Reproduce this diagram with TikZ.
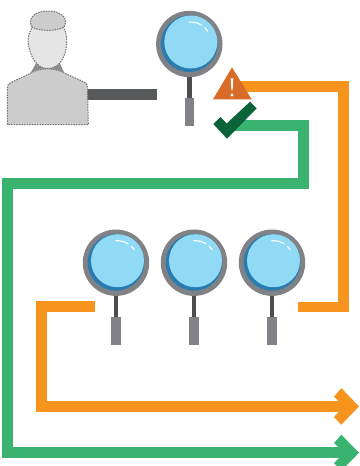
\documentclass[tikz,border=0pt]{standalone}
\definecolor{orangeline}{HTML}{F7941E}
\definecolor{greenline}{HTML}{39B36F}
\definecolor{ringgray}{HTML}{808285}
\definecolor{stemgray}{HTML}{4D4D4F}
\definecolor{barshade}{HTML}{58595B}
\definecolor{lensdark}{HTML}{2A7CB0}
\definecolor{lenslight}{HTML}{91DAF6}
\definecolor{warnfill}{HTML}{DA6C2A}
\definecolor{checkfill}{HTML}{0B6339}
\tikzset{
  route/.style={line width=10.7pt,miter limit=10},
  personpart/.style={draw=black!55,dash pattern=on 1.5pt off 1.1pt,line width=1pt},
  magnifier/.pic={
    \fill[stemgray] (-2.2,30) rectangle (2.2,56);
    \fill[ringgray] (-4.8,53.8) rectangle (4.8,81.8);
    \fill[ringgray] (0,0) circle (33.2);
    \fill[lensdark] (0,-0.3) circle (28.3);
    \fill[lenslight] (1.5,-2) circle (26.5);
    \draw[white,line width=1.1pt,line cap=round] (1.5,-2) ++(-95:20) arc[start angle=-95,end angle=-58,radius=20];
    \draw[white,line width=1.1pt,line cap=round] (1.5,-2) ++(-46:20) arc[start angle=-46,end angle=-33,radius=20];
  }
}
\begin{document}
\begin{tikzpicture}[x=1pt,y=-1pt]
\useasboundingbox (0,0) rectangle (359,466);
\clip (0,0) rectangle (359,466);
% coordinates
\coordinate (warnEnd) at (236,86.7);
\coordinate (okEnd) at (232,125.7);
\coordinate (barL) at (87.3,94.7);
\coordinate (barR) at (157.3,94.7);
% bar from person to magnifier
\draw[barshade,line width=10.7pt] (barL) -- (barR);
% person
\path[personpart,fill=black!20] (7.3,124.5) -- (7.3,88) .. controls (7.3,85) and (8.5,83.5) .. (11,82.5) -- (31,73) .. controls (40,67.5) and (55,67.5) .. (64,73) -- (83,81.5) .. controls (86,82.5) and (87.5,84) .. (87.5,88) -- (88.3,124.5) -- cycle;
\fill[black!45] (30.7,73) -- (36.7,62) -- (59.3,62) -- (64.3,73) .. controls (55,67.5) and (40,67.5) .. (30.7,73) -- cycle;
\path[personpart,fill=black!10] (33,26) .. controls (29,32) and (27.5,38) .. (28.3,44) .. controls (29.5,52) and (33,60) .. (37,64) .. controls (41,67.5) and (44,68.5) .. (48,68.5) .. controls (52,68.5) and (56,67) .. (60,63) .. controls (64,58) and (66.5,50) .. (66.7,43) .. controls (67,36) and (66,32) .. (63,26) -- cycle;
\path[personpart,fill=black!20] (32,27) .. controls (27,18) and (35,11) .. (48,11) .. controls (61,11) and (69,18) .. (64,27) .. controls (58,31.5) and (38,31.5) .. (32,27) -- cycle;
% magnifiers
\pic at (189.3,44) {magnifier};
\pic at (116,262.7) {magnifier};
\pic at (194,262.7) {magnifier};
\pic at (272,262.7) {magnifier};
% routes
\coordinate (o2start) at (298,307);
\coordinate (o3start) at (95,306.7);
\coordinate (oTip) at (352,406.4);
\coordinate (gTip) at (352,452.7);
\draw[route,orangeline] (warnEnd) -- (343.3,86.7) -- (343.3,307) -- (o2start);
\draw[route,orangeline] (o3start) -- (41.5,306.7) -- (41.5,406.4) -- (oTip);
\fill[orangeline] (334,396.7) -- (341.3,388.2) -- (359,406.4) -- (341.3,424.7) -- (334,417) -- (344.5,406.4) -- cycle;
\draw[route,greenline] (okEnd) -- (303.7,125.7) -- (303.7,183.5) -- (7.7,183.5) -- (7.7,452.7) -- (gTip);
\fill[greenline] (334,443) -- (341.3,434.7) -- (359,452.7) -- (341.3,470.7) -- (334,463) -- (344.5,452.7) -- cycle;
% warning and check
\fill[warnfill] (232,67.3) -- (251.7,99.3) -- (213,99.3) -- cycle;
\fill[white] (230.7,78.3) -- (233.3,78.3) -- (232.6,90) -- (231.4,90) -- cycle;
\fill[white] (232,95) circle (1.6);
\fill[checkfill] (213.3,124) -- (220.5,117) -- (226.7,123.5) -- (250,101.7) -- (256.7,108.3) -- (227,138.7) -- cycle;
\end{tikzpicture}
\end{document}
